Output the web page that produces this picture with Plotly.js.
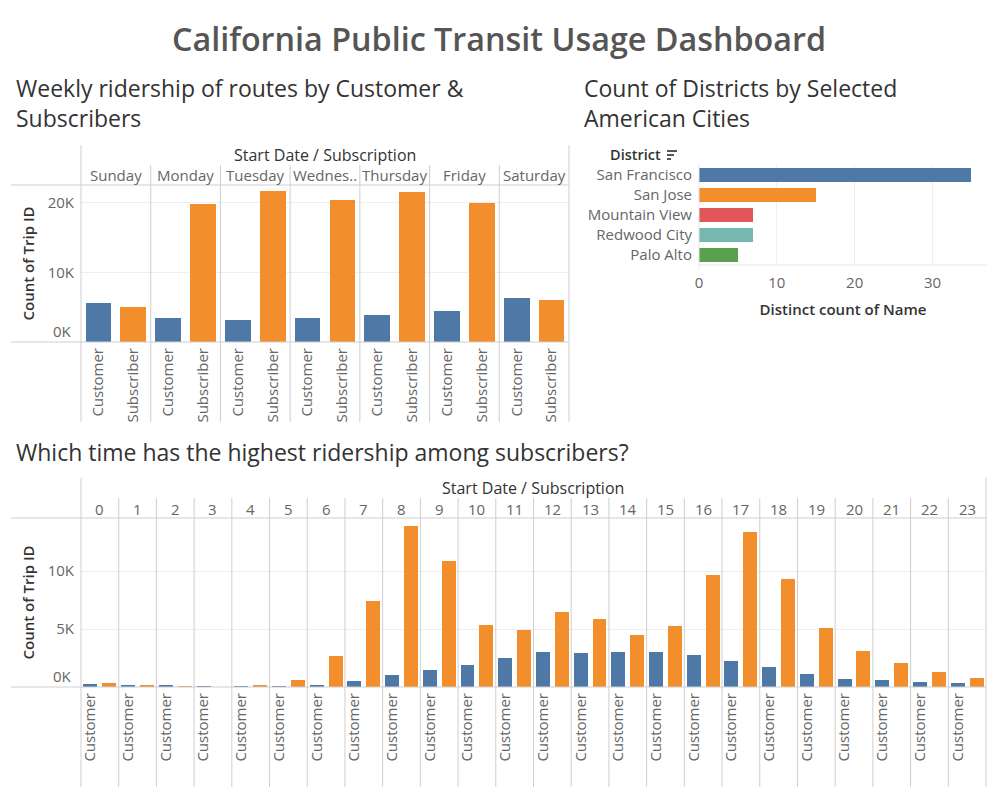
<!DOCTYPE html>
<html><head><meta charset="utf-8">
<script src="https://cdn.plot.ly/plotly-3.0.1.min.js"></script>
<style>html,body{margin:0;padding:0;background:#fff;} #chart{width:997px;height:797px;}</style>
</head><body><div id="chart"></div>
<script>
// ---------------- DATA ----------------
const days = ['Sunday','Monday','Tuesday','Wednesday','Thursday','Friday','Saturday'];
const dayLabels = ['Sunday','Monday','Tuesday','Wednes..','Thursday','Friday','Saturday'];
const subscriptionTypes = ['Customer','Subscriber'];
const weeklyCustomer   = [5630, 3460, 3170, 3460, 3890, 4470, 6350];
const weeklySubscriber = [5050, 19760, 21630, 20340, 21490, 19900, 6060];
const weeklyTickVals = [10000, 20000];
const weeklyTickText = ['10K', '20K'];

const districts = ['San Francisco','San Jose','Mountain View','Redwood City','Palo Alto'];
const districtCounts = [35, 15, 7, 7, 5];
const districtColors = ['#4E79A7','#F28E2B','#E15759','#76B7B2','#59A14F'];
const districtTickVals = [0, 10, 20, 30];

const hours = ['0','1','2','3','4','5','6','7','8','9','10','11','12','13','14','15','16','17','18','19','20','21','22','23'];
const hourlyCustomer   = [260,170,170,90,90,90,170,520,1040,1470,1900,2510,3030,2940,3030,3030,2770,2250,1730,1120,690,610,430,350];
const hourlySubscriber = [350,170,90,40,170,600,2680,7440,13920,10890,5360,4930,6480,5880,4500,5270,9680,13400,9340,5100,3110,2070,1300,780];
const hourlyTickVals = [5000, 10000];
const hourlyTickText = ['5K', '10K'];
const zeroTickText = '0K';

// ---------------- HELPERS ----------------
const W = 997, H = 797;
const px = x => x / W;
const py = y => 1 - y / H;
const FONT = '"Open Sans", Lato, sans-serif';
const BLUE = '#4E79A7', ORANGE = '#F28E2B';
const LINE = '#cfcfcf', GRID = '#efefef';
const TICK = '#666666', DARK = '#333333';

const shapes = [];
function seg(x0, y0, x1, y1, color, width) {
  shapes.push({type:'line', xref:'paper', yref:'paper',
    x0: px(x0), x1: px(x1), y0: py(y0), y1: py(y1),
    line:{color: color || LINE, width: width || 1}, layer:'above'});
}
const annotations = [];
function note(text, x, y, opts) {
  annotations.push(Object.assign({text, x, y, xref:'paper', yref:'paper', showarrow:false,
    xanchor:'center', yanchor:'middle', font:{family:FONT, size:15, color:TICK}}, opts || {}));
}

// positions derived from indexes
const wCustX = days.map((d, i) => i * 2);
const wSubX  = days.map((d, i) => i * 2 + 1);
const hCustX = hours.map((h, i) => i * 2);
const hSubX  = hours.map((h, i) => i * 2 + 1);
const wTickVals = days.flatMap((d, i) => [i * 2, i * 2 + 1]);
const wTickText = days.flatMap(() => subscriptionTypes);

const weeklyMax = 22540, hourlyMax = 14580;

// ---------------- TRACES ----------------
const traces = [
  {type:'bar', x:wCustX, y:weeklyCustomer, name:'Customer', marker:{color:BLUE}, width:0.74, xaxis:'x', yaxis:'y'},
  {type:'bar', x:wSubX, y:weeklySubscriber, name:'Subscriber', marker:{color:ORANGE}, width:0.74, xaxis:'x', yaxis:'y'},
  {type:'bar', orientation:'h', x:districtCounts, y:districts, marker:{color:districtColors}, width:0.72, xaxis:'x2', yaxis:'y2'},
  {type:'bar', x:hCustX, y:hourlyCustomer, name:'Customer', marker:{color:BLUE}, width:0.74, xaxis:'x3', yaxis:'y3'},
  {type:'bar', x:hSubX, y:hourlySubscriber, name:'Subscriber', marker:{color:ORANGE}, width:0.74, xaxis:'x3', yaxis:'y3'}
];

// ---------------- DECORATION ----------------
// weekly chart frame
seg(81, 145, 81, 422); seg(569, 145, 569, 422);
seg(11, 185, 569, 185); seg(11, 342, 569, 342);
days.forEach((d, i) => { if (i > 0) shapes.push({type:'line', xref:'x', yref:'paper', x0:i*2-0.5, x1:i*2-0.5, y0:py(165), y1:py(422), line:{color:LINE, width:1}}); });
note('Start Date / Subscription', px(325), py(155), {font:{family:FONT, size:16, color:DARK}});
dayLabels.forEach((d, i) => note(d, i*2+0.5, py(175), {xref:'x'}));
note(zeroTickText, px(74), 0, {yref:'y', xanchor:'right', yanchor:'middle', yshift:11});

// hourly chart frame
seg(81, 478, 81, 787); seg(986, 478, 986, 787);
seg(11, 518, 986, 518); seg(11, 687, 986, 687);
hours.forEach((h, i) => { if (i > 0) shapes.push({type:'line', xref:'x3', yref:'paper', x0:i*2-0.5, x1:i*2-0.5, y0:py(498), y1:py(787), line:{color:LINE, width:1}}); });
note('Start Date / Subscription', px(533), py(488), {font:{family:FONT, size:16, color:DARK}});
hours.forEach((h, i) => note(h, i*2+0.5, py(509), {xref:'x3'}));
note(zeroTickText, px(74), 0, {yref:'y3', xanchor:'right', yanchor:'middle', yshift:11});

// district chart
seg(699, 165, 699, 270, '#e6e6e6'); seg(699, 265, 987, 265, '#e6e6e6');
note('District', px(663), py(154), {xanchor:'right', font:{family:FONT, size:14.5, color:DARK, weight:600}});
seg(667, 151, 677, 151, '#555', 2); seg(667, 155, 674, 155, '#555', 2); seg(667, 159, 671, 159, '#555', 2);

// titles
note('California Public Transit Usage Dashboard', px(499), py(38), {font:{family:FONT, size:32.3, color:'#555555', weight:600}});
note('Weekly ridership of routes by Customer &<br>Subscribers', px(14), py(103), {xanchor:'left', align:'left', font:{family:FONT, size:23, color:DARK}});
note('Count of Districts by Selected<br>American Cities', px(582), py(103), {xanchor:'left', align:'left', font:{family:FONT, size:23, color:DARK}});
note('Which time has the highest ridership among subscribers?', px(14), py(452), {xanchor:'left', font:{family:FONT, size:23, color:DARK}});

const tickFont = {family:FONT, size:15, color:TICK};
const titleFont = {family:FONT, size:15, color:DARK, weight:600};

const layout = {
  width: W, height: H, autosize:false,
  margin:{l:0, r:0, t:0, b:0, pad:0},
  paper_bgcolor:'#ffffff', plot_bgcolor:'#ffffff',
  showlegend:false, bargap:0, barmode:'overlay',
  font:{family:FONT, color:TICK},
  xaxis:{domain:[px(81), px(569)], range:[-0.5, 13.5], anchor:'y', tickmode:'array', tickvals:wTickVals, ticktext:wTickText,
    tickangle:-90, tickfont:tickFont, showgrid:false, zeroline:false, showline:false, ticks:'', ticklabelstandoff:2},
  yaxis:{domain:[py(342), py(185)], range:[0, weeklyMax], anchor:'x', tickmode:'array', tickvals:weeklyTickVals, ticktext:weeklyTickText,
    tickfont:tickFont, showgrid:true, gridcolor:GRID, zeroline:false, showline:false, ticks:'', ticklabelstandoff:6,
    title:{text:'Count of Trip ID', font:titleFont, standoff:9}},
  xaxis2:{domain:[px(699), px(987)], range:[0, 37], anchor:'y2', tickmode:'array', tickvals:districtTickVals,
    tickfont:tickFont, showgrid:true, gridcolor:GRID, zeroline:false, showline:false, ticks:'', ticklabelstandoff:7,
    title:{text:'Distinct count of Name', font:titleFont, standoff:13}},
  yaxis2:{domain:[py(265), py(165)], anchor:'x2', autorange:'reversed', type:'category', tickfont:tickFont,
    showgrid:false, zeroline:false, showline:false, ticks:'', ticklabelstandoff:6},
  xaxis3:{domain:[px(81), px(986)], range:[-0.5, 47.5], anchor:'y3', tickmode:'array', tickvals:hCustX, ticktext:hours.map(() => subscriptionTypes[0]),
    tickangle:-90, tickfont:tickFont, showgrid:false, zeroline:false, showline:false, ticks:'', ticklabelstandoff:2},
  yaxis3:{domain:[py(687), py(518)], range:[0, hourlyMax], anchor:'x3', tickmode:'array', tickvals:hourlyTickVals, ticktext:hourlyTickText,
    tickfont:tickFont, showgrid:true, gridcolor:GRID, zeroline:false, showline:false, ticks:'', ticklabelstandoff:6,
    title:{text:'Count of Trip ID', font:titleFont, standoff:9}},
  shapes, annotations
};

Plotly.newPlot('chart', traces, layout, {staticPlot:true, displayModeBar:false});
</script></body></html>
